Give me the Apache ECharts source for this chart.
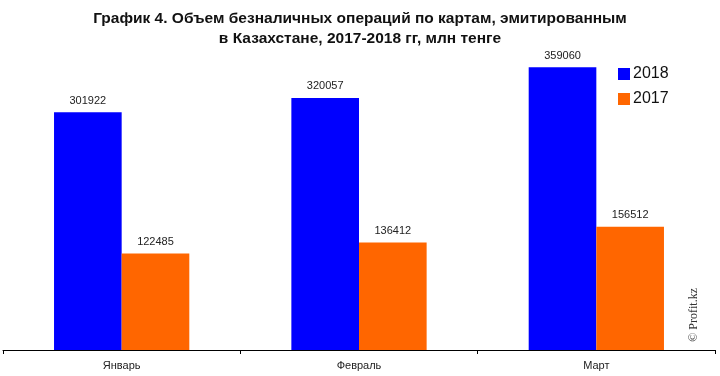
<!DOCTYPE html>
<html>
<head>
<meta charset="utf-8">
<script src="https://cdn.jsdelivr.net/npm/echarts@6/dist/echarts.min.js"></script>
<style>
  html, body { margin: 0; padding: 0; background: #fff; }
  #contain { width: 720px; height: 376px; }
</style>
</head>
<body>
<div id="contain"></div>
<script>
// данные
var months = ['Январь', 'Февраль', 'Март'];
var data2018 = [301922, 320057, 359060];
var data2017 = [122485, 136412, 156512];

var myChart = echarts.init(document.getElementById('contain'));
var option = {
    backgroundColor: '#fff',
    title: {
        text: 'График 4. Объем безналичных операций по картам, эмитированным\nв Казахстане, 2017-2018 гг, млн тенге',
        left: 'center',
        top: 4,
        textStyle: {
            fontFamily: 'Liberation Sans',
            fontWeight: 'bold',
            fontSize: 15.5,
            lineHeight: 20,
            color: '#111'
        }
    },
    legend: {
        orient: 'vertical',
        left: 613,
        top: 61,
        itemWidth: 12,
        itemHeight: 12,
        itemGap: 9,
        icon: 'rect',
        textStyle: { fontSize: 16, color: '#111', fontFamily: 'Liberation Sans', padding: [0, 0, 0, -2] },
        data: ['2018', '2017']
    },
    grid: {
        left: 3,
        right: 5,
        top: 35,
        bottom: 26
    },
    xAxis: [{
        type: 'category',
        data: months,
        axisLine: { lineStyle: { color: '#000', width: 1 } },
        axisTick: { show: true, length: 4, alignWithLabel: false, lineStyle: { color: '#000' } },
        axisLabel: { color: '#222', fontSize: 11, margin: 10, fontFamily: 'Liberation Sans' }
    }],
    yAxis: [{
        type: 'value',
        min: 0,
        max: 400000,
        show: false,
        splitLine: { show: false }
    }],
    series: [{
        name: '2018',
        type: 'bar',
        data: data2018,
        barGap: '0%',
        barCategoryGap: '43%',
        itemStyle: { color: '#0000ff' },
        label: { show: true, position: 'top', distance: 6, color: '#222', fontSize: 11, fontFamily: 'Liberation Sans' }
    }, {
        name: '2017',
        type: 'bar',
        data: data2017,
        itemStyle: { color: '#ff6600' },
        label: { show: true, position: 'top', distance: 6, color: '#222', fontSize: 11, fontFamily: 'Liberation Sans' }
    }],
    graphic: [{
        type: 'text',
        left: 688,
        top: 288,
        rotation: Math.PI / 2,
        style: {
            text: '© Profit.kz',
            font: '12px "Liberation Serif", serif',
            fill: '#333'
        }
    }]
};
myChart.setOption(option);
</script>
</body>
</html>
